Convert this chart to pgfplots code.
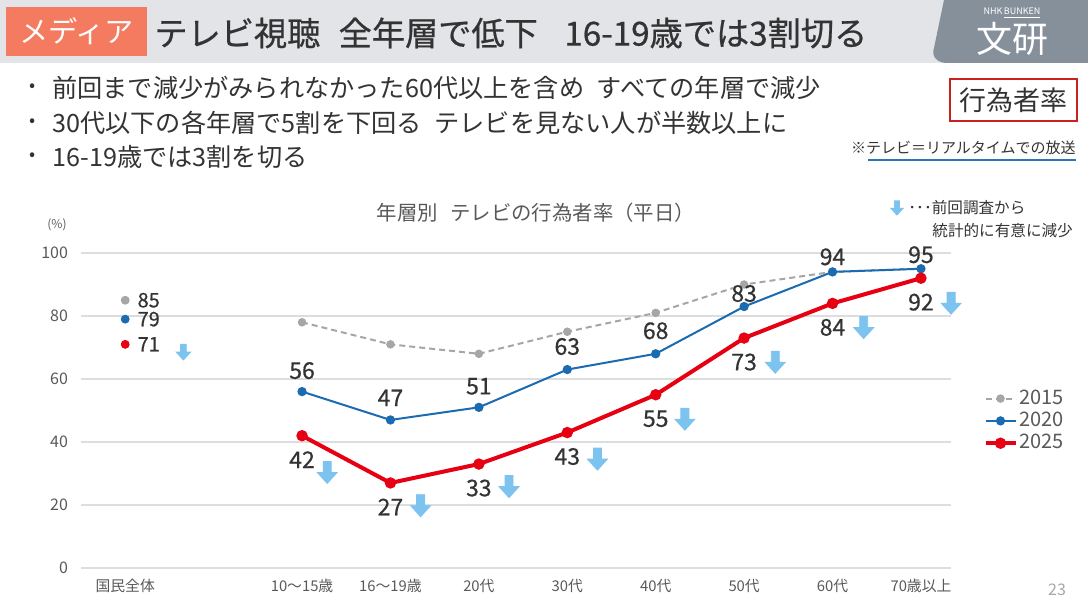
\documentclass[border=0pt]{standalone}
\usepackage{fontspec}
\setmainfont{Noto Sans CJK JP}
\newfontfamily\labelfont[FakeBold=0.6]{Noto Sans CJK JP}
\usepackage{pgfplots}
\usepackage{pgfplotstable}
\pgfplotsset{compat=1.18}

\definecolor{headergray}{HTML}{E2E4E8}
\definecolor{salmon}{HTML}{F47B60}
\definecolor{logogray}{HTML}{86909B}
\definecolor{sgray}{HTML}{A6A6A6}
\definecolor{sblue}{HTML}{1A6BB0}
\definecolor{sred}{HTML}{E60012}
\definecolor{arrowblue}{HTML}{7DC3F0}
\definecolor{textdark}{HTML}{333333}
\definecolor{ticktext}{HTML}{595959}
\definecolor{gridgray}{HTML}{DDDDDD}
\definecolor{boxred}{HTML}{C9211E}
\definecolor{noteblue}{HTML}{2E75B6}

% light-blue "significant decrease" arrow
\newcommand{\sigarrow}[1][1]{\tikz[baseline={(0pt,0pt)},scale=#1]\fill[arrowblue] (-2pt,5.5pt) -- (2pt,5.5pt) -- (2pt,0pt) -- (5pt,0pt) -- (0pt,-5.5pt) -- (-5pt,0pt) -- (-2pt,0pt) -- cycle;}
\newlength\arrx
\newlength\arry
% value label followed by the arrow, shifted by (#1, #2) in pt
\newcommand{\redlab}[2]{\pgfmathsetlength{\arrx}{#1*1pt}\pgfmathsetlength{\arry}{#2*1pt}\pgfmathprintnumber{\pgfplotspointmeta}\rlap{\smash{\hspace{\arrx}\raisebox{\arry}{\sigarrow}}}}

% 2015 survey
\pgfplotstableread{
x y
2 78
3 71
4 68
5 75
6 81
7 90
8 94
9 95
}\tabgray
% 2020 survey (dy: label offset above the point, pt)
\pgfplotstableread{
x y dy
2 56 10.5
3 47 11
4 51 10.5
5 63 11.5
6 68 11.5
7 83 6.5
8 94 7.5
9 95 7
}\tabblue
% 2025 survey (ax, ay: position of the arrow beside the label, pt)
\pgfplotstableread{
x y ax ay
2 42 1.0 -2.2
3 27 3.5 4.8
4 33 3.5 4.8
5 43 3.5 2.8
6 55 3.0 3.8
7 73 4.0 4.0
8 84 4.0 4.0
9 92 3.5 3.6
}\tabred

\begin{document}
\begin{tikzpicture}
\path[use as bounding box] (0pt,0pt) rectangle (544pt,-307pt);

\begin{axis}[
  at={(40.5pt,-284pt)}, anchor=south west,
  scale only axis, width=435pt, height=157.5pt,
  xmin=-0.5, xmax=9.34, ymin=0, ymax=100,
  clip=false,
  axis line style={draw=none}, tick style={draw=none},
  ymajorgrids, major grid style={gridgray, line width=0.6pt},
  ytick={0,20,...,100},
  xtick={0,2,3,4,5,6,7,8,9},
  xticklabels={国民全体,10～15歳,16～19歳,20代,30代,40代,50代,60代,70歳以上},
  /pgf/number format/assume math mode=true,
  yticklabel style={font=\fontsize{8}{8}\selectfont, text=ticktext, xshift=-3pt},
  xticklabel style={font=\fontsize{7.4}{8}\selectfont, text=ticktext, yshift=-2pt},
  legend style={at={(1.03,0.467)}, anchor=west, draw=none, fill=none,
    font=\fontsize{10}{10}\selectfont, text=ticktext, row sep=1.2pt,
    nodes={inner xsep=1pt, inner ysep=0.6pt}},
  legend cell align=left,
  legend image code/.code={\draw[mark repeat=2,mark phase=2,#1] plot coordinates {(0pt,0pt) (7.5pt,0pt) (15pt,0pt)};},
]
% national totals
\addplot[only marks, mark=*, mark size=2pt, color=sgray, forget plot,
  nodes near coords, every node near coord/.append style={anchor=west, inner sep=0pt, xshift=6pt, font=\labelfont\fontsize{10}{10}\selectfont, text=textdark}]
  coordinates {(0,85)};
\addplot[only marks, mark=*, mark size=2pt, color=sblue, forget plot,
  nodes near coords, every node near coord/.append style={anchor=west, inner sep=0pt, xshift=6pt, font=\labelfont\fontsize{10}{10}\selectfont, text=textdark}]
  coordinates {(0,79)};
\addplot[only marks, mark=*, mark size=2pt, color=sred, forget plot,
  nodes near coords={\pgfmathprintnumber{\pgfplotspointmeta}\rlap{\smash{\hspace{8pt}\raisebox{-0.3pt}{\sigarrow[0.72]}}}},
  every node near coord/.append style={anchor=west, inner sep=0pt, xshift=6pt, font=\labelfont\fontsize{10}{10}\selectfont, text=textdark}]
  coordinates {(0,71)};

% age groups
\addplot[color=sgray, line width=1pt, dash pattern=on 3pt off 2pt,
  mark=*, mark size=1.6pt, mark options={solid}]
  table[x=x, y=y] {\tabgray};
\addlegendentry{2015}
\addplot[color=sblue, line width=1pt, mark=*, mark size=1.8pt,
  visualization depends on={\thisrow{dy} \as \dy},
  nodes near coords,
  every node near coord/.append style={anchor=center, yshift=\dy*1pt, font=\labelfont\fontsize{11.5}{12}\selectfont, text=textdark}]
  table[x=x, y=y] {\tabblue};
\addlegendentry{2020}
\addplot[color=sred, line width=2pt, mark=*, mark size=1.8pt,
  visualization depends on={\thisrow{ax} \as \ax},
  visualization depends on={\thisrow{ay} \as \ay},
  nodes near coords={\redlab{\ax}{\ay}},
  every node near coord/.append style={anchor=center, yshift=-12pt, font=\labelfont\fontsize{11.5}{12}\selectfont, text=textdark}]
  table[x=x, y=y] {\tabred};
\addlegendentry{2025}
\end{axis}

\begin{scope}[x=0.5pt, y=-0.5pt]
% header band
\fill[headergray] (0,0) rectangle (1088,63);
\fill[salmon] (6,7) rectangle (147,56);
\node[text=white, font=\fontsize{14.6}{15}\selectfont] at (76.5,31.5) {メディア};
\node[anchor=west, inner sep=0pt, text=textdark, font=\labelfont\fontsize{16.6}{17}\selectfont] at (154,33)
  {テレビ視聴\hspace{0.55em}全年層で低下\hspace{0.8em}16-19歳では3割切る};
% logo
\fill[logogray] (944,0) -- (1088,0) -- (1088,63) -- (947,63) .. controls (937,63) and (931,56) .. (934,48) -- cycle;
\node[text=white, font=\fontsize{4.5}{5}\selectfont, inner sep=0pt] at (1012,13) {\textit{NHK}\,\underline{BUNKEN}};
\node[text=white, font=\fontsize{18}{18}\selectfont, inner sep=0pt] at (1012,39) {文研};

% bullet points
\foreach \yy/\tt in {88/{前回まで減少がみられなかった60代以上を含め\hspace{0.5em}すべての年層で減少},
                     123/{30代以下の各年層で5割を下回る\hspace{0.5em}テレビを見ない人が半数以上に},
                     157/{16-19歳では3割を切る}} {
  \node[text=textdark, font=\fontsize{9}{10}\selectfont, inner sep=0pt] at (33,\yy) {•};
  \node[anchor=west, text=textdark, font=\fontsize{12.6}{13}\selectfont, inner sep=0pt] at (52,\yy) {\tt};
}

% indicator box and note
\draw[boxred, line width=1pt] (950,79) rectangle (1077,121);
\node[text=textdark, font=\fontsize{13.5}{14}\selectfont] at (1013.5,100) {行為者率};
\node[anchor=east, inner sep=0pt, text=textdark, font=\fontsize{7.5}{8}\selectfont] at (1076,148) {※テレビ＝リアルタイムでの放送};
\draw[noteblue, line width=1pt] (868,160) -- (1076,160);

% chart title, unit, key
\node[text=ticktext, font=\fontsize{10.2}{11}\selectfont] at (536,213) {年層別\hspace{0.6em}テレビの行為者率（平日）};
\node[text=ticktext, font=\fontsize{6}{6}\selectfont] at (57,225) {(\%)};
\node[inner sep=0pt] at (897,208) {\sigarrow[0.7]};
\node[anchor=west, inner sep=0pt, text=textdark, font=\fontsize{7.8}{8}\selectfont] at (908,208) {･･･前回調査から};
\node[anchor=west, inner sep=0pt, text=textdark, font=\fontsize{7.8}{8}\selectfont] at (932,231) {統計的に有意に減少};

% page number
\node[text=sgray, font=\fontsize{8}{8}\selectfont] at (1057,590) {23};
\end{scope}
\end{tikzpicture}
\end{document}
